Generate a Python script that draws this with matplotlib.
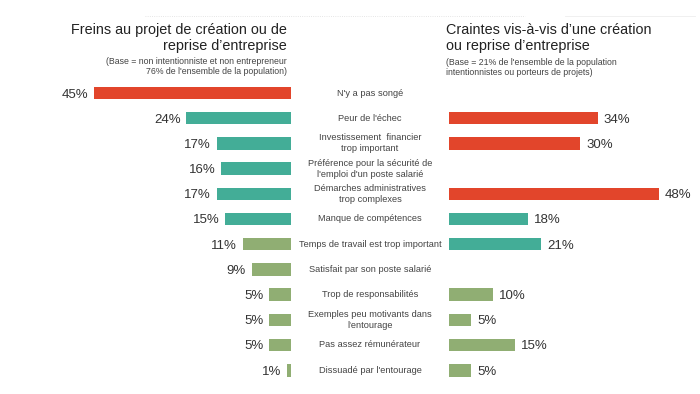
import matplotlib.pyplot as plt
from matplotlib.transforms import blended_transform_factory

plt.rcParams['font.family'] = ['Liberation Sans', 'DejaVu Sans']

labels = [
    "N'y a pas songé",
    "Peur de l'échec",
    "Investissement  financier\ntrop important",
    "Préférence pour la sécurité de\nl'emploi d'un poste salarié",
    "Démarches administratives\ntrop complexes",
    "Manque de compétences",
    "Temps de travail est trop important",
    "Satisfait par son poste salarié",
    "Trop de responsabilités",
    "Exemples peu motivants dans\nl'entourage",
    "Pas assez rémunérateur",
    "Dissuadé par l'entourage",
]
freins = [45, 24, 17, 16, 17, 15, 11, 9, 5, 5, 5, 1]
freins_cat = ['r', 't', 't', 't', 't', 't', 'g', 'g', 'g', 'g', 'g', 'g']
craintes = [None, 34, 30, None, 48, 18, 21, None, 10, 5, 15, 5]
craintes_cat = [None, 'r', 'r', None, 'r', 't', 't', None, 'g', 'g', 'g', 'g']

colors = {'r': '#E2452B', 't': '#43AD97', 'g': '#90AE73'}

W, H = 700, 394
fig = plt.figure(figsize=(W / 100, H / 100), dpi=100)

row_h = 25.2
top_px = 93 - row_h / 2
bot = 1 - (top_px + 12 * row_h) / H
hgt = 12 * row_h / H
px_per = 4.37

# left panel: bars grow leftwards from x=291
lw = 60 * px_per
axl = fig.add_axes([(291 - lw) / W, bot, lw / W, hgt])
axl.set_xlim(60, 0)
# right panel: bars grow rightwards from x=449
rw = 57 * px_per
axr = fig.add_axes([449 / W, bot, rw / W, hgt])
axr.set_xlim(0, 57)

rows = list(range(len(labels)))
for ax in (axl, axr):
    ax.set_ylim(11.5, -0.5)
    ax.axis('off')

axl.barh(rows, freins, height=0.5, color=[colors[c] for c in freins_cat])
for i, v in enumerate(freins):
    axl.text(v + 1.3, i, f'{v}%', ha='right', va='center_baseline', fontsize=9.5, color='#333333')

for i, v in enumerate(craintes):
    if v is None:
        continue
    axr.barh(i, v, height=0.5, color=colors[craintes_cat[i]])
    axr.text(v + 1.4, i, f'{v}%', ha='left', va='center_baseline', fontsize=9.5, color='#333333')

tr = blended_transform_factory(fig.transFigure, axl.transData)
for i, lab in enumerate(labels):
    axl.text(370 / W, i, lab, transform=tr, ha='center', va='center',
             fontsize=6.7, color='#444444', linespacing=1.3)

# titles
fig.text(287 / W, 1 - 23 / H, "Freins au projet de création ou de\nreprise d\u2019entreprise",
         ha='right', va='top', fontsize=10.4, color='#222222', linespacing=1.2)
fig.text(287 / W, 1 - 57 / H, "(Base = non intentionniste et non entrepreneur\n76% de l'ensemble de la population)",
         ha='right', va='top', fontsize=6.3, color='#444444', linespacing=1.2)
fig.text(446 / W, 1 - 23 / H, "Craintes vis-à-vis d\u2019une création\nou reprise d\u2019entreprise",
         ha='left', va='top', fontsize=10.4, color='#222222', linespacing=1.2)
fig.text(446 / W, 1 - 58 / H, "(Base = 21% de l'ensemble de la population\nintentionnistes ou porteurs de projets)",
         ha='left', va='top', fontsize=6.3, color='#444444', linespacing=1.2)

# faint separator lines at the top
fig.add_artist(plt.Line2D([145 / W, 525 / W], [1 - 16 / H] * 2, color='#dddddd',
                          lw=0.6, ls=':'))
fig.add_artist(plt.Line2D([565 / W, 695 / W], [1 - 16 / H] * 2, color='#eeeeee', lw=0.6))

fig.savefig('out.png', dpi=100, facecolor='white')
